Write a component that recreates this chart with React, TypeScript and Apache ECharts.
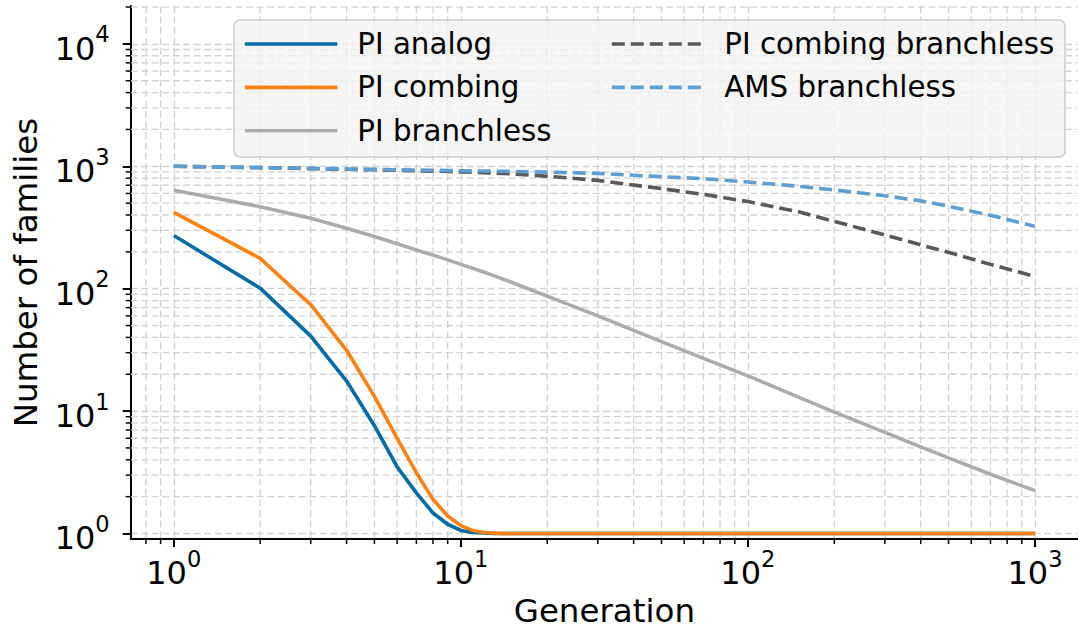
import React, { useEffect, useRef } from 'react';
import * as echarts from 'echarts';

const generations = [1, 2, 3, 4, 5, 6, 7, 8, 9, 10, 11, 12, 13, 14, 15, 20, 30, 50, 70, 100, 150, 200, 300, 400, 500, 700, 1000];
const piAnalog = [272, 101, 41, 17.6, 7.6, 3.5, 2.15, 1.47, 1.19, 1.06, 1.02, 1.01, 1.0, 1.0, 1.0, 1.0, 1.0, 1.0, 1.0, 1.0, 1.0, 1.0, 1.0, 1.0, 1.0, 1.0, 1.0];
const piCombing = [421, 177, 74, 31.4, 13.2, 6.0, 3.14, 1.9, 1.39, 1.16, 1.06, 1.02, 1.01, 1.0, 1.0, 1.0, 1.0, 1.0, 1.0, 1.0, 1.0, 1.0, 1.0, 1.0, 1.0, 1.0, 1.0];
const piBranchless = [636, 468, 376, 312, 267, 233, 207, 188, 172, 158, 147, 137, 128, 120, 113, 87, 60, 37, 27, 19.4, 13.0, 9.8, 6.7, 5.1, 4.15, 3.05, 2.24];
const piCombingBranchless = [1000, 975, 958, 946, 936, 927, 920, 913, 906, 900, 893, 886, 880, 874, 868, 830, 767, 657, 590, 515, 425, 355, 275, 228, 198, 158, 126];
const amsBranchless = [1000, 975, 961, 951, 944, 937, 932, 928, 924, 920, 917, 915, 912, 910, 908, 897, 875, 823, 792, 745, 687, 641, 575, 522, 472, 398, 323];

const seriesNames = ['PI analog', 'PI combing', 'PI branchless', 'PI combing branchless', 'AMS branchless'];
const xMajorTicks = [1, 10, 100, 1000];
const yMajorTicks = [1, 10, 100, 1000, 10000];
const xMinorTicks = [0.8, 0.9, 2, 3, 4, 5, 6, 7, 8, 9, 20, 30, 40, 50, 60, 70, 80, 90, 200, 300, 400, 500, 600, 700, 800, 900];
const yMinorTicks = [2, 3, 4, 5, 6, 7, 8, 9, 20, 30, 40, 50, 60, 70, 80, 90, 200, 300, 400, 500, 600, 700, 800, 900, 2000, 3000, 4000, 5000, 6000, 7000, 8000, 9000, 20000];

const FONT = 'DejaVu Sans';
const GRID_COLOR = '#d2d2d2';
const GRID_DASH = [7, 3.5];
const LINE_W = 3.6;

function fmtPow(v: number) {
  const e = Math.log10(v);
  if (Math.abs(e - Math.round(e)) > 1e-6) return '';
  return `{b|10}{s|${Math.round(e)}}`;
}

const richLabel = {
  b: { fontSize: 32, fontFamily: FONT, color: '#000', lineHeight: 42, verticalAlign: 'bottom' },
  s: { fontSize: 22.5, fontFamily: FONT, color: '#000', lineHeight: 22.5, verticalAlign: 'top' },
};

function minorX(values: number[]) {
  return {
    type: 'custom',
    coordinateSystem: 'cartesian2d',
    clip: false,
    silent: true,
    z: 1,
    data: values.map((v) => [v, 1]),
    renderItem: (params: any, api: any) => {
      const cs = params.coordSys;
      const x = api.coord([api.value(0), 1])[0];
      const bottom = cs.y + cs.height;
      return {
        type: 'group',
        children: [
          { type: 'line', shape: { x1: x, y1: cs.y, x2: x, y2: bottom }, style: { stroke: GRID_COLOR, lineWidth: 1.3, lineDash: GRID_DASH } },
          { type: 'line', shape: { x1: x, y1: bottom, x2: x, y2: bottom + 5 }, style: { stroke: '#000', lineWidth: 1.5 } },
        ],
      };
    },
  };
}

function minorY(values: number[]) {
  return {
    type: 'custom',
    coordinateSystem: 'cartesian2d',
    clip: false,
    silent: true,
    z: 1,
    data: values.map((v) => [1, v]),
    renderItem: (params: any, api: any) => {
      const cs = params.coordSys;
      const y = api.coord([1, api.value(1)])[1];
      return {
        type: 'group',
        children: [
          { type: 'line', shape: { x1: cs.x, y1: y, x2: cs.x + cs.width, y2: y }, style: { stroke: GRID_COLOR, lineWidth: 1.3, lineDash: GRID_DASH } },
          { type: 'line', shape: { x1: cs.x - 5, y1: y, x2: cs.x, y2: y }, style: { stroke: '#000', lineWidth: 1.5 } },
        ],
      };
    },
  };
}

function lineSeries(name: string, values: number[], color: string, dashed: boolean) {
  return {
    name,
    type: 'line',
    data: generations.map((g, i) => [g, values[i]]),
    showSymbol: false,
    symbol: 'none',
    z: 2,
    itemStyle: { color },
    lineStyle: { color, width: LINE_W, type: dashed ? [13, 6] : 'solid' },
  };
}

export default function App() {
  const ref = useRef<HTMLDivElement>(null);
  useEffect(() => {
    if (!ref.current) return;
    const chart = echarts.init(ref.current, undefined, { renderer: 'svg' });
    const legendCommon = {
      orient: 'vertical',
      top: 29,
      padding: 0,
      itemWidth: 92.5,
      itemHeight: 14,
      itemGap: 13.35,
      itemStyle: { opacity: 0 },
      lineStyle: { width: LINE_W },
      textStyle: { fontFamily: FONT, fontSize: 29.3, color: '#000', lineHeight: 30, padding: [0, 0, 0, 15] },
      selectedMode: false,
      z: 5,
    };
    chart.setOption({
      animation: false,
      backgroundColor: '#ffffff',
      grid: { left: 130.7, top: 6, width: 948.3, bottom: 89.7, containLabel: false },
      xAxis: {
        type: 'log',
        logBase: 10,
        min: 0.7079,
        max: 1412.5,
        name: 'Generation',
        nameLocation: 'middle',
        nameGap: 52,
        nameTextStyle: { fontFamily: FONT, fontSize: 32.5, color: '#000' },
        axisLine: { show: true, onZero: false, lineStyle: { color: '#000', width: 2 } },
        axisTick: { show: true, inside: false, length: 8, lineStyle: { color: '#000', width: 2 }, customValues: xMajorTicks },
        axisLabel: { show: true, margin: 8, formatter: fmtPow, rich: richLabel, customValues: xMajorTicks },
        splitLine: { show: true, showMinLine: true, showMaxLine: true, lineStyle: { color: GRID_COLOR, width: 1.3, type: GRID_DASH } },
        minorTick: { show: false },
      },
      yAxis: {
        type: 'log',
        logBase: 10,
        min: 0.9,
        max: 20400,
        name: 'Number of families',
        nameLocation: 'middle',
        nameGap: 88,
        nameTextStyle: { fontFamily: FONT, fontSize: 32.5, color: '#000' },
        axisLine: { show: true, onZero: false, lineStyle: { color: '#000', width: 2 } },
        axisTick: { show: true, inside: false, length: 8, lineStyle: { color: '#000', width: 2 }, customValues: yMajorTicks },
        axisLabel: { show: true, margin: 21, formatter: fmtPow, rich: richLabel, customValues: yMajorTicks },
        splitLine: { show: true, showMinLine: true, showMaxLine: true, lineStyle: { color: GRID_COLOR, width: 1.3, type: GRID_DASH } },
        minorTick: { show: false },
      },
      legend: [
        { ...legendCommon, left: 243, data: seriesNames.slice(0, 3) },
        { ...legendCommon, left: 610, data: seriesNames.slice(3) },
      ],
      graphic: [
        {
          type: 'rect',
          z: 3,
          shape: { x: 234, y: 20, width: 831, height: 137, r: 6 },
          style: { fill: 'rgba(242,242,242,0.8)', stroke: '#cccccc', lineWidth: 1.5 },
        },
      ],
      series: [
        minorX(xMinorTicks),
        minorY(yMinorTicks),
        lineSeries(seriesNames[0], piAnalog, '#006BA4', false),
        lineSeries(seriesNames[1], piCombing, '#FF800E', false),
        lineSeries(seriesNames[2], piBranchless, '#ABABAB', false),
        lineSeries(seriesNames[3], piCombingBranchless, '#595959', true),
        lineSeries(seriesNames[4], amsBranchless, '#5F9ED1', true),
      ],
    });
    return () => chart.dispose();
  }, []);
  return <div ref={ref} style={{ position: 'fixed', left: 0, top: 0, width: 1078, height: 632 }} />;
}
